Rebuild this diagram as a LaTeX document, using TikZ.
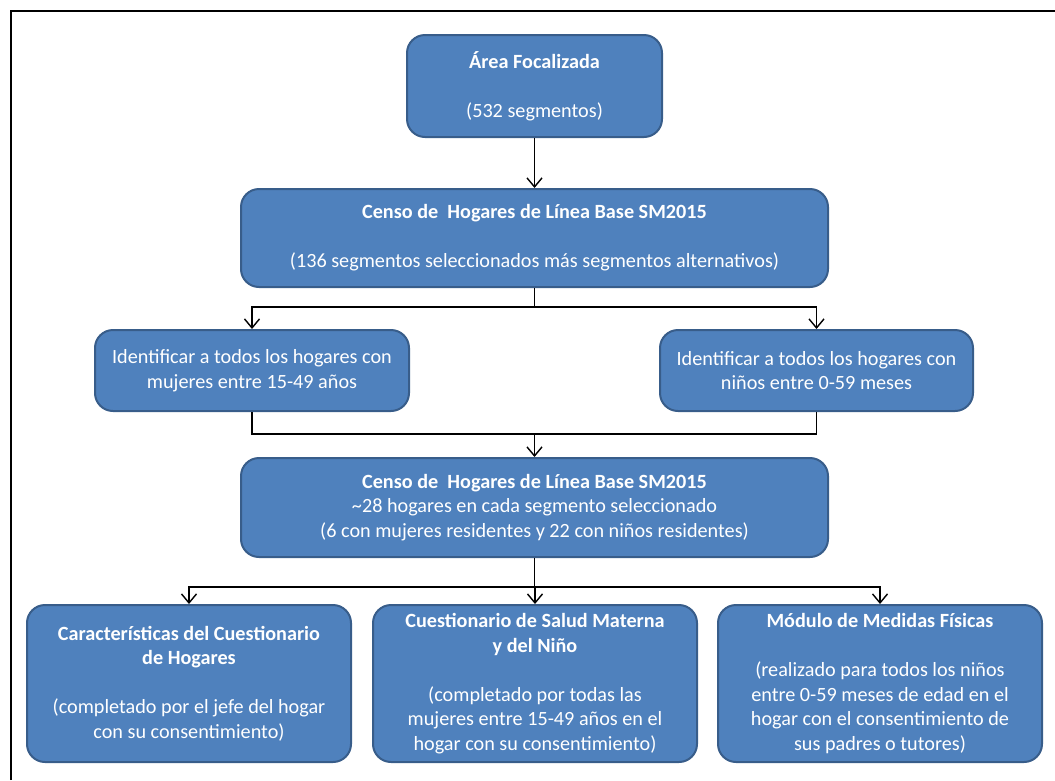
\documentclass[tikz,border=0pt]{standalone}
\usepackage{fontspec}
\setmainfont{Carlito}
\usetikzlibrary{arrows.meta}
\definecolor{boxfill}{RGB}{79,129,189}
\definecolor{boxdraw}{RGB}{56,93,138}
\begin{document}
\begin{tikzpicture}[x=1pt,y=-1pt,
  box/.style={draw=boxdraw, fill=boxfill, line width=2pt, rounded corners=18pt,
    text=white, align=center, font=\fontsize{20.2}{24.5}\selectfont, inner sep=0pt},
  conn/.style={line width=1.4pt},
  arr/.style={conn, -{Straight Barb[length=9pt,width=15pt,line width=1.4pt]}}]
\useasboundingbox (0,0) rectangle (1055,780);
\draw[line width=2pt] (11,780) -- (11,11) -- (1055,11);

\node[box, minimum width=255pt, minimum height=102pt] (a) at (534.5,86)
  {\textbf{Área Focalizada}\\[24.5pt](532 segmentos)};
\node[box, minimum width=587pt, minimum height=98pt] (b) at (534.5,238)
  {\textbf{Censo de\ \ Hogares de Línea Base SM2015}\\[24.5pt](136 segmentos seleccionados más segmentos alternativos)};
\node[box, minimum width=314pt, minimum height=81pt] (c) at (252,370.5)
  {Identificar a todos los hogares con\\mujeres entre 15-49 años};
\node[box, minimum width=313pt, minimum height=81pt] (d) at (816.5,370.5)
  {Identificar a todos los hogares con\\niños entre 0-59 meses};
\node[box, minimum width=587pt, minimum height=99pt] (e) at (534.5,507.5)
  {\textbf{Censo de\ \ Hogares de Línea Base SM2015}\\\textasciitilde28 hogares en cada segmento seleccionado\\(6 con mujeres residentes y 22 con niños residentes)};
\node[box, minimum width=324pt, minimum height=157pt] (f) at (189,683.5)
  {\textbf{Características del Cuestionario}\\\textbf{de Hogares}\\[24.5pt](completado por el jefe del hogar\\con su consentimiento)};
\node[box, minimum width=324pt, minimum height=157pt] (g) at (535,683.5)
  {\textbf{Cuestionario de Salud Materna}\\\textbf{y del Niño}\\[24.5pt](completado por todas las\\mujeres entre 15-49 años en el\\hogar con su consentimiento)};
\node[box, minimum width=324pt, minimum height=157pt] (h) at (880,683.5)
  {\textbf{Módulo de Medidas Físicas}\\[24.5pt](realizado para todos los niños\\entre 0-59 meses de edad en el\\hogar con el consentimiento de\\sus padres o tutores)};

\draw[arr] (a.south) -- (b.north);
\coordinate (s1) at (534.5,307);
\draw[conn] (b.south) -- (s1);
\draw[arr] (s1) -| (c.north);
\draw[arr] (s1) -| (d.north);
\coordinate (j) at (534.5,434);
\draw[conn] (c.south) |- (j);
\draw[conn] (d.south) |- (j);
\draw[arr] (j) -- (e.north);
\coordinate (s2) at (534.5,587);
\draw[conn] (e.south) -- (s2);
\draw[arr] (s2) -| (f.north);
\draw[arr] (s2) -| (g.north);
\draw[arr] (s2) -| (h.north);
\end{tikzpicture}
\end{document}
